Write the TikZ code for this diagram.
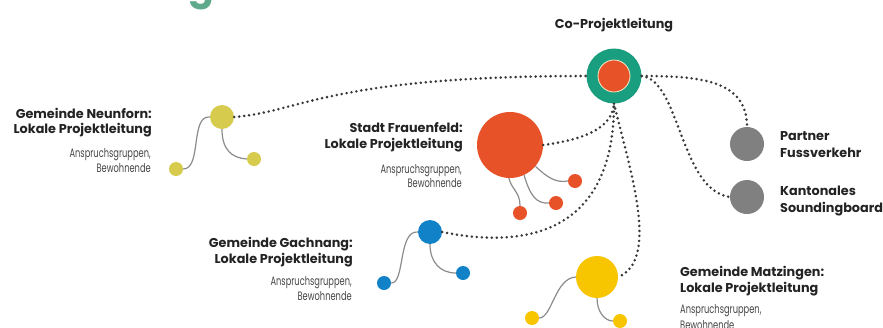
\documentclass[tikz,border=0pt]{standalone}
\usepackage{fontspec}
\setmainfont{Poppins}
\newfontfamily\regfont[FakeStretch=0.68]{Poppins}
\definecolor{teal}{RGB}{26,158,128}
\definecolor{orng}{RGB}{232,82,40}
\definecolor{olive}{RGB}{214,203,76}
\definecolor{blu}{RGB}{18,130,200}
\definecolor{yel}{RGB}{248,198,0}
\definecolor{grayball}{RGB}{128,128,128}
\definecolor{dotc}{RGB}{55,55,55}
\definecolor{threadc}{RGB}{140,140,140}
\definecolor{txtdark}{RGB}{35,35,35}
\definecolor{txtgray}{RGB}{70,70,70}
\definecolor{cream}{RGB}{245,235,200}
\definecolor{titlec}{RGB}{95,170,140}
\begin{document}
\begin{tikzpicture}[x=1pt,y=-1pt,
  dotline/.style={draw=dotc, line width=2.8pt, line cap=round, dash pattern=on 0pt off 5pt},
  thread/.style={draw=threadc, line width=1.2pt},
  ball/.style={circle, inner sep=0pt, minimum size=#1},
  boldlbl/.style={font=\bfseries\fontsize{12.8}{14}\selectfont, text=txtdark, inner sep=0pt},
  reglbl/.style={font=\regfont\fontsize{12.2}{13}\selectfont, text=txtgray, inner sep=0pt}]
\useasboundingbox (0,0) rectangle (883,327);
\clip (0,0) rectangle (883,327);
\fill[white] (0,0) rectangle (883,327);
% cropped title fragment
\node[anchor=base, inner sep=0pt, text=titlec, font=\bfseries\fontsize{38}{40}\selectfont] (title) at (201,-1) {g};

% central node
\node[ball=55pt, fill=teal] (co) at (614,76) {};
\node[ball=32pt, fill=orng, draw=cream, line width=0.8pt] (coin) at (614,76) {};
\node[boldlbl, anchor=base] (colbl) at (614,28) {Co-Projektleitung};

% Neunforn
\node[ball=24pt, fill=olive] (nb) at (222,117) {};
\node[ball=14pt, fill=olive] (nl) at (176,169) {};
\node[ball=14pt, fill=olive] (nr) at (254,159) {};
\draw[thread] (nl.east) .. controls (202,169) and (190,115) .. (nb.west);
\draw[thread] (nb.south) .. controls (222,150) and (232,158) .. (nr.west);
\node[boldlbl, anchor=base east] (n1) at (152,118) {Gemeinde Neunforn:};
\node[boldlbl, anchor=base east] (n2) at (152,133) {Lokale Projektleitung};
\node[reglbl, anchor=base east] (n3) at (151,157) {Anspruchsgruppen,};
\node[reglbl, anchor=base east] (n4) at (151,172) {Bewohnende};

% Frauenfeld
\node[ball=66pt, fill=orng] (fr) at (510,145) {};
\node[ball=14pt, fill=orng] (fs1) at (575,181) {};
\node[ball=14pt, fill=orng] (fs2) at (556,203) {};
\node[ball=14pt, fill=orng] (fs3) at (520,213) {};
\draw[thread] (fr.-40) .. controls (548,178) and (556,183) .. (fs1.west);
\draw[thread] (fr.-65) .. controls (530,195) and (536,204) .. (fs2.west);
\draw[thread] (fr.-92) .. controls (512,190) and (520,192) .. (fs3.north);
\node[boldlbl, anchor=base east] (f1) at (463,132) {Stadt Frauenfeld:};
\node[boldlbl, anchor=base east] (f2) at (463,148) {Lokale Projektleitung};
\node[reglbl, anchor=base east] (f3) at (462,173) {Anspruchsgruppen,};
\node[reglbl, anchor=base east] (f4) at (462,187) {Bewohnende};

% Gachnang
\node[ball=24pt, fill=blu] (ga) at (430,232) {};
\node[ball=14pt, fill=blu] (gl) at (384,283) {};
\node[ball=14pt, fill=blu] (gr) at (463,273) {};
\draw[thread] (gl.east) .. controls (405,284) and (398,230) .. (ga.west);
\draw[thread] (ga.south) .. controls (430,262) and (440,273) .. (gr.west);
\node[boldlbl, anchor=base east] (g1) at (353,247) {Gemeinde Gachnang:};
\node[boldlbl, anchor=base east] (g2) at (353,263) {Lokale Projektleitung};
\node[reglbl, anchor=base east] (g3) at (352,285) {Anspruchsgruppen,};
\node[reglbl, anchor=base east] (g4) at (352,300) {Bewohnende};

% Matzingen
\node[ball=42pt, fill=yel] (ma) at (597,277) {};
\node[ball=14pt, fill=yel] (ml) at (532,318) {};
\node[ball=14pt, fill=yel] (mr) at (620,321) {};
\draw[thread] (ml.east) .. controls (552,318) and (555,278) .. (ma.west);
\draw[thread] (ma.south) .. controls (597,312) and (605,321) .. (mr.west);
\node[boldlbl, anchor=base west] (m1) at (680,276) {Gemeinde Matzingen:};
\node[boldlbl, anchor=base west] (m2) at (680,292) {Lokale Projektleitung};
\node[reglbl, anchor=base west] (m3) at (680,313) {Anspruchsgruppen,};
\node[reglbl, anchor=base west] (m4) at (680,329) {Bewohnende};

% Partner / Kantonales
\node[ball=34pt, fill=grayball] (pa) at (747,144) {};
\node[ball=34pt, fill=grayball] (ka) at (747,197) {};
\node[boldlbl, anchor=base west] (p1) at (780,140) {Partner};
\node[boldlbl, anchor=base west] (p2) at (780,157) {Fussverkehr};
\node[boldlbl, anchor=base west] (k1) at (780,195) {Kantonales};
\node[boldlbl, anchor=base west] (k2) at (780,212) {Soundingboard};

% dotted connectors
\draw[dotline] (nb.east) .. controls (300,112) and (330,76) .. (co.west);
\draw[dotline] (fr.east) .. controls (580,140) and (612,130) .. (co.south);
\draw[dotline] (ga.east) .. controls (530,250) and (614,230) .. (co.south);
\draw[dotline] (co.south) .. controls (630,170) and (660,260) .. (ma.east);
\draw[dotline] (co.east) .. controls (700,76) and (747,80) .. (pa.north);
\draw[dotline] (co.east) .. controls (680,80) and (680,190) .. (ka.west);
\end{tikzpicture}
\end{document}
